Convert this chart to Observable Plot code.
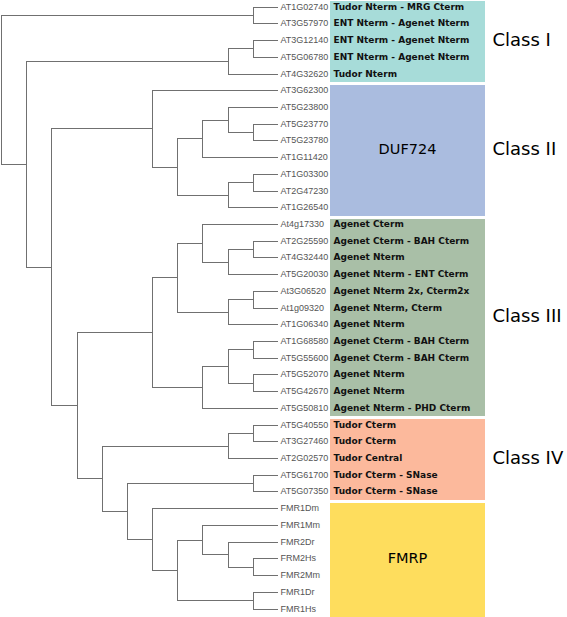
<!DOCTYPE html>
<html>
<head>
<meta charset="utf-8">
<script src="https://cdn.jsdelivr.net/npm/d3@7"></script>
<script src="https://cdn.jsdelivr.net/npm/@observablehq/plot@0.6"></script>
<style>
  body { margin: 0; background: #fff; }
  #chart svg { display: block; }
</style>
</head>
<body>
<div id="chart"></div>
<script>
// ---- Tree topology (cladogram), leaves in drawing order ----
const pairTop   = ["AT1G02740", "AT3G57970"];
const cladeA    = [["AT3G12140", "AT5G06780"], "AT4G32620"];
const cladeDUF  = ["AT3G62300", [[["AT5G23800", ["AT5G23770", "AT5G23780"]], "AT1G11420"], [["AT1G03300", "AT2G47230"], "AT1G26540"]]];
const cladeIII  = [[["At4g17330", [["AT2G25590", "AT4G32440"], "AT5G20030"]], [["At3G06520", "At1g09320"], "AT1G06340"]],
                   [[["AT1G68580", "AT5G55600"], ["AT5G52070", "AT5G42670"]], "AT5G50810"]];
const cladeTudor = [["AT5G40550", "AT3G27460"], "AT2G02570"];
const cladeFMR  = [["AT5G61700", "AT5G07350"], ["FMR1Dm", [["FMR1Mm", ["FMR2Dr", ["FRM2Hs", "FMR2Mm"]]], ["FMR1Dr", "FMR1Hs"]]]];
const tree = [pairTop, [cladeA, [cladeDUF, [cladeIII, [cladeTudor, cladeFMR]]]]];

// ---- Domain annotation per leaf (same order as leaves) ----
const domains = [
  "Tudor Nterm - MRG Cterm", "ENT Nterm - Agenet Nterm", "ENT Nterm - Agenet Nterm", "ENT Nterm - Agenet Nterm", "Tudor Nterm",
  "", "", "", "", "", "", "", "",
  "Agenet Cterm", "Agenet Cterm - BAH Cterm", "Agenet Nterm", "Agenet Nterm - ENT Cterm", "Agenet Nterm 2x, Cterm2x",
  "Agenet Nterm, Cterm", "Agenet Nterm", "Agenet Cterm - BAH Cterm", "Agenet Cterm - BAH Cterm", "Agenet Nterm",
  "Agenet Nterm", "Agenet Nterm - PHD Cterm",
  "Tudor Cterm", "Tudor Cterm", "Tudor Central", "Tudor Cterm - SNase", "Tudor Cterm - SNase",
  "", "", "", "", "", "", ""
];

// ---- Groups (boxes) ----
const groupKeys   = ["Class I", "Class II", "Class III", "Class IV", "FMRP"];
const groupClass  = ["Class I", "Class II", "Class III", "Class IV", ""];
const groupInner  = ["", "DUF724", "", "", "FMRP"];
const groupFirst  = [0, 5, 13, 25, 30];
const groupLast   = [4, 12, 24, 29, 36];

// ---- Layout from topology ----
const root = d3.hierarchy(tree, d => Array.isArray(d) ? d : null);
let leafIndex = 0;
root.eachAfter(n => {
  n.py = n.children ? d3.mean(n.children, c => c.py) : leafIndex++;
  n.px = root.height - n.height;
});
const horiz = root.descendants().filter(n => n.parent)
  .map(n => ({y: n.py, x1: n.parent.px, x2: n.px}));
const vert = root.descendants().filter(n => n.children)
  .map(n => ({x: n.px, y1: n.children[0].py, y2: n.children[n.children.length - 1].py}));
const leaves = root.leaves().map((n, i) => ({name: n.data, x: n.px, y: n.py, dom: domains[i]}));
const groups = groupKeys.map((k, i) => ({
  key: k, cls: groupClass[i], inner: groupInner[i],
  first: groupFirst[i], last: groupLast[i], mid: (groupFirst[i] + groupLast[i]) / 2
}));

const lineColor = "#707070";

const chart = Plot.plot({
  width: 567,
  height: 617,
  margin: 0,
  x: {domain: [0, root.height], range: [1, 278], round: true, axis: null},
  y: {domain: [0, leaves.length - 1], range: [6.7, 608.5], round: true, axis: null},
  color: {domain: groupKeys, range: ["#a7dcd9", "#aabcdf", "#a9bfa7", "#fcb99c", "#fedd5d"]},
  marks: [
    Plot.rect(groups, {y1: d => d.first - 0.5, y2: d => d.last + 0.5, fill: "key",
      insetLeft: 330, insetRight: 82, insetTop: 3}),
    Plot.ruleX(vert, {x: "x", y1: "y1", y2: "y2", stroke: lineColor}),
    Plot.ruleY(horiz, {y: "y", x1: "x1", x2: "x2", stroke: lineColor}),
    Plot.text(leaves, {x: "x", y: "y", text: "name", dx: 2, textAnchor: "start",
      fontSize: 9, fontFamily: "Liberation Sans, Arial, sans-serif", fill: "#555"}),
    Plot.text(leaves, {x: "x", y: "y", text: "dom", dx: 55, textAnchor: "start",
      fontSize: 9, fontWeight: "bold", fontFamily: "DejaVu Sans, Verdana, sans-serif", fill: "#111"}),
    Plot.text(groups.filter(g => g.cls), {y: "mid", text: "cls", frameAnchor: "left", dx: 492, textAnchor: "start",
      fontSize: 18, fontFamily: "DejaVu Sans, Verdana, sans-serif", fill: "#000"}),
    Plot.text(groups.filter(g => g.inner), {y: "mid", text: "inner", frameAnchor: "left", dx: 407, textAnchor: "middle",
      fontSize: 14.5, fontFamily: "DejaVu Sans, Verdana, sans-serif", fill: "#000"})
  ]
});
document.getElementById("chart").appendChild(chart);
</script>
</body>
</html>
